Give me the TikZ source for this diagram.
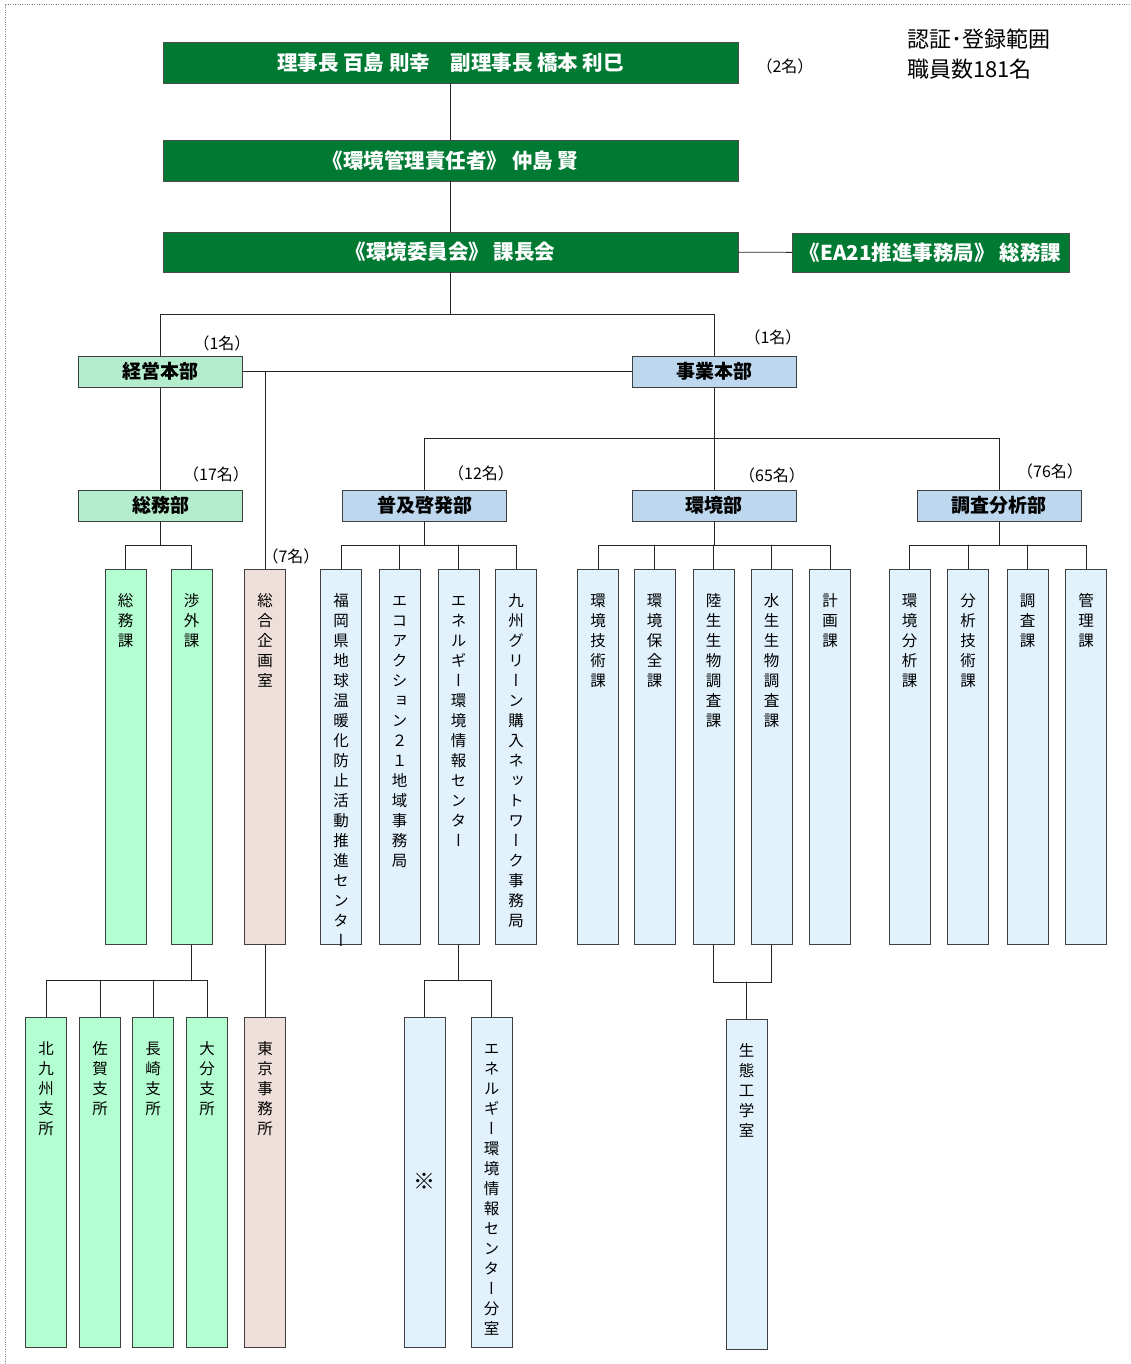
\documentclass[tikz,border=0pt]{standalone}
\usepackage{fontspec}
\setmainfont{Noto Sans CJK JP}
\newfontfamily\vfont{Noto Sans CJK JP}[RawFeature=+vert]
\usetikzlibrary{positioning}
\definecolor{orggreen}{RGB}{0,122,51}
\definecolor{hdgreen}{RGB}{180,236,206}
\definecolor{colgreen}{RGB}{179,255,209}
\definecolor{hdblue}{RGB}{189,215,238}
\definecolor{colblue}{RGB}{225,242,253}
\definecolor{colpink}{RGB}{238,223,218}
\makeatletter
\newcommand\vcol[1]{\vtop{\baselineskip=20pt\@tfor\vch:=#1\do{\hbox to 20pt{\hss\vch\hss}}}}
\makeatother

\begin{document}
\begin{tikzpicture}[x=1pt,y=-1pt,line cap=round,
  topbox/.style={draw=black!70,fill=orggreen,text=white,minimum height=41pt,inner sep=0pt,font=\bfseries\fontsize{20.5}{22}\selectfont},
  headbox/.style={draw=black!75,line width=0.9pt,minimum width=164pt,minimum height=31pt,inner sep=0pt,font=\bfseries\fontsize{19}{20}\selectfont},
  colbox/.style={draw=black!75,line width=0.9pt,minimum width=41pt,inner sep=0pt,anchor=north,text height=37pt,text depth=338pt,font=\vfont\fontsize{15.5}{20}\selectfont},
  lowbox/.style={colbox,text depth=293pt},
  cnt/.style={font=\fontsize{16}{18}\selectfont,inner sep=0pt},
  link/.style={draw=black!85,line width=0.8pt}]
\useasboundingbox (0,0) rectangle (1130,1364);
\draw[dotted,black!70] (5,1364) -- (5,4) -- (1130,4);

% top of the chart
\node[topbox,minimum width=575pt] (chair) at (450.5,62.5) {理事長 百島 則幸　副理事長 橋本 利巳};
\node[topbox,minimum width=575pt] (ems) at (450.5,160.5) {《環境管理責任者》 仲島 賢};
\node[topbox,minimum width=575pt,minimum height=40pt] (comm) at (450.5,252) {《環境委員会》 課長会};
\node[topbox,minimum width=277pt,minimum height=39pt] (ea21) at (930.5,252.5) {《EA21推進事務局》 総務課};
\node[cnt] (n0) at (785,66) {（2名）};
\node[anchor=north west,align=left,inner sep=0pt,font=\fontsize{22}{30}\selectfont] (scope) at (907,29) {認証･登録範囲\\職員数181名};

% head offices and departments
\node[headbox,fill=hdgreen] (keiei) at (160.5,371.5) {経営本部};
\node[headbox,fill=hdblue] (jigyo) at (714,371.5) {事業本部};
\node[headbox,fill=hdgreen] (soumu) at (160.5,505.5) {総務部};
\node[headbox,fill=hdblue] (fukyu) at (424.5,505.5) {普及啓発部};
\node[headbox,fill=hdblue] (kankyo) at (714,505.5) {環境部};
\node[headbox,fill=hdblue] (chosa) at (999,505.5) {調査分析部};
\node[cnt] (n1) at (222,343) {（1名）};
\node[cnt] (n2) at (773,337) {（1名）};
\node[cnt] (n3) at (216,474) {（17名）};
\node[cnt] (n4) at (481,473) {（12名）};
\node[cnt] (n5) at (772,475) {（65名）};
\node[cnt] (n6) at (1050,471) {（76名）};
\node[cnt] (n7) at (291,556) {（7名）};

% sections
\node[colbox,fill=colgreen] (s1) at (125.5,569) {\vcol{総務課}};
\node[colbox,fill=colgreen] (s2) at (191.5,569) {\vcol{渉外課}};
\node[colbox,fill=colpink] (kikaku) at (265,569) {\vcol{総合企画室}};
\node[colbox,fill=colblue] (f1) at (341,569) {\vcol{福岡県地球温暖化防止活動推進センター}};
\node[colbox,fill=colblue] (f2) at (399.5,569) {\vcol{エコアクション２１地域事務局}};
\node[colbox,fill=colblue] (f3) at (458.5,569) {\vcol{エネルギー環境情報センター}};
\node[colbox,fill=colblue] (f4) at (516,569) {\vcol{九州グリーン購入ネットワーク事務局}};
\node[colbox,fill=colblue] (k1) at (598,569) {\vcol{環境技術課}};
\node[colbox,fill=colblue] (k2) at (654.5,569) {\vcol{環境保全課}};
\node[colbox,fill=colblue] (k3) at (713.5,569) {\vcol{陸生生物調査課}};
\node[colbox,fill=colblue] (k4) at (771.5,569) {\vcol{水生生物調査課}};
\node[colbox,fill=colblue] (k5) at (830,569) {\vcol{計画課}};
\node[colbox,fill=colblue] (c1) at (909.5,569) {\vcol{環境分析課}};
\node[colbox,fill=colblue] (c2) at (968,569) {\vcol{分析技術課}};
\node[colbox,fill=colblue] (c3) at (1027.5,569) {\vcol{調査課}};
\node[colbox,fill=colblue] (c4) at (1086,569) {\vcol{管理課}};

% branch offices
\node[lowbox,fill=colgreen] (b1) at (46,1017) {\vcol{北九州支所}};
\node[lowbox,fill=colgreen] (b2) at (100,1017) {\vcol{佐賀支所}};
\node[lowbox,fill=colgreen] (b3) at (153,1017) {\vcol{長崎支所}};
\node[lowbox,fill=colgreen] (b4) at (207,1017) {\vcol{大分支所}};
\node[lowbox,fill=colpink] (tokyo) at (265,1017) {\vcol{東京事務所}};
\node[lowbox,fill=colblue,text height=172pt,text depth=158pt,font=\fontsize{22}{22}\selectfont] (kome) at (424.5,1017) {※};
\node[lowbox,fill=colblue] (bunshitsu) at (491.5,1017) {\vcol{エネルギー環境情報センター分室}};
\node[lowbox,fill=colblue] (seitai) at (746.5,1019) {\vcol{生態工学室}};

% connectors
\draw[link] (chair) -- (ems);
\draw[link] (ems) -- (comm);
\draw[link] (comm) -- (ea21);
\draw[link] (comm.south) -- ++(0,42) coordinate (j1);
\draw[link] (keiei.north) |- (j1) -| (jigyo.north);
\draw[link] (keiei.east) -- (jigyo.west);
\draw[link] (kikaku.north) -- (kikaku.north |- keiei.east);
\draw[link] (keiei) -- (soumu);
\draw[link] (jigyo) -- (kankyo);
\draw[link] (fukyu.north) -- ++(0,-51) -| (chosa.north);
\draw[link] (soumu.south) -- ++(0,24);
\draw[link] (s1.north) -- ++(0,-24) -| (s2.north);
\draw[link] (fukyu.south) -- ++(0,24);
\draw[link] (f1.north) -- ++(0,-24) -| (f4.north);
\foreach \c in {f2,f3} \draw[link] (\c.north) -- ++(0,-24);
\draw[link] (kankyo.south) -- ++(0,24);
\draw[link] (k1.north) -- ++(0,-24) -| (k5.north);
\foreach \c in {k2,k3,k4} \draw[link] (\c.north) -- ++(0,-24);
\draw[link] (chosa.south) -- ++(0,24);
\draw[link] (c1.north) -- ++(0,-24) -| (c4.north);
\foreach \c in {c2,c3} \draw[link] (\c.north) -- ++(0,-24);
\draw[link] (s2.south) -- ++(0,36);
\draw[link] (b1.north) -- ++(0,-37) -| (b4.north);
\foreach \c in {b2,b3} \draw[link] (\c.north) -- ++(0,-37);
\draw[link] (kikaku) -- (tokyo);
\draw[link] (f3.south) -- ++(0,36);
\draw[link] (kome.north) -- ++(0,-37) -| (bunshitsu.north);
\draw[link] (k3.south) -- ++(0,37) coordinate (r1) -| (k4.south);
\draw[link] (seitai.north) -- (seitai.north |- r1);
\end{tikzpicture}
\end{document}
